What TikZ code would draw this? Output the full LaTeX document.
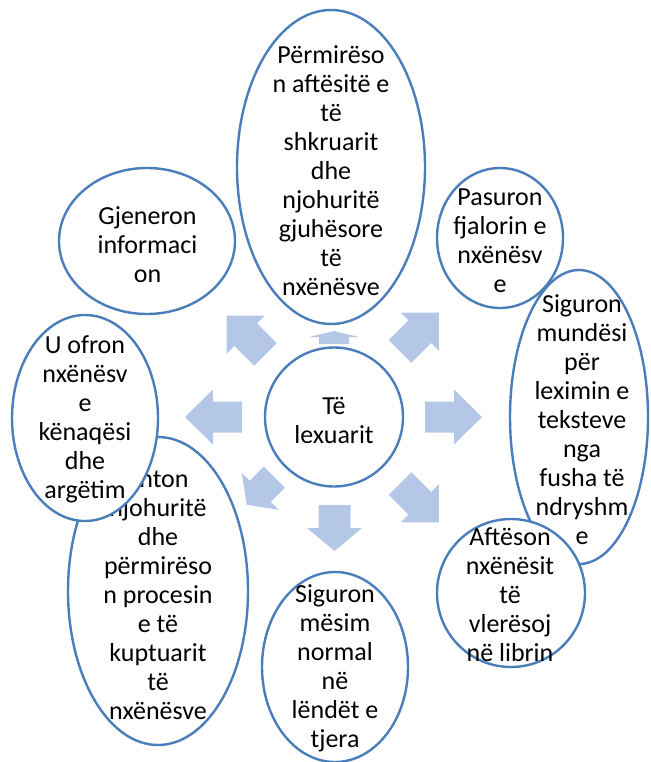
\documentclass[tikz,border=0pt]{standalone}
\usepackage{fontspec}
\setmainfont{Carlito}
\usetikzlibrary{shapes.geometric}
\definecolor{ellblue}{RGB}{74,126,187}
\definecolor{arrowfill}{RGB}{180,199,231}
\tikzset{
  bubble/.style={ellipse, draw=ellblue, line width=2.4pt, fill=white, inner sep=0pt},
  btext/.style={align=center, inner sep=0pt, font=\fontsize{26pt}{29pt}\selectfont, text=black},
  arrowshape/.style={fill=arrowfill}
}
% x, y, angle, length, head length, head width, shaft width
\newcommand\blockarrow[7]{\fill[arrowshape, shift={(#1,#2)}, rotate=#3]
  ({-#4/2},{-#7/2}) -- ({#4/2-#5},{-#7/2}) -- ({#4/2-#5},{-#6/2}) -- ({#4/2},0)
  -- ({#4/2-#5},{#6/2}) -- ({#4/2-#5},{#7/2}) -- ({-#4/2},{#7/2}) -- cycle;}
\begin{document}
\begin{tikzpicture}[x=1pt,y=-1pt]
\useasboundingbox (0,0) rectangle (650,762);
% block arrows
\blockarrow{213.5}{417}{180}{57}{28}{55}{31}
\blockarrow{453.5}{417}{0}{57}{28}{55}{31}
\blockarrow{246}{335}{135}{55}{27}{54}{32}
\blockarrow{419.5}{332}{45}{55}{27}{54}{32}
\blockarrow{419.5}{503}{315}{55}{27}{54}{32}
\blockarrow{334.5}{528}{270}{46}{23}{55}{32}
\blockarrow{260.5}{491}{225}{39}{19}{52}{30}
\blockarrow{334}{337.5}{90}{13}{6}{50}{30}
% centre
\node[bubble, minimum width=138pt, minimum height=139pt] (c) at (334,417) {};
\node[btext] (ct) at (334,420) {Të\\lexuarit};
% top
\node[bubble, minimum width=188pt, minimum height=314pt] (n) at (331,167) {};
\node[btext] (nt) at (331,171) {Përmirëso\\n aftësitë e\\të\\shkruarit\\dhe\\njohuritë\\gjuhësore\\të\\nxënësve};
% north-east
\node[bubble, minimum width=126pt, minimum height=140pt] (ne) at (500,238) {};
\node[btext] (net) at (500,241) {Pasuron\\fjalorin e\\nxënësv\\e};
% east
\node[bubble, minimum width=138pt, minimum height=294pt] (e) at (579,417) {};
\node[btext] (et) at (582,420) {Siguron\\mundësi\\për\\leximin e\\teksteve\\nga\\fusha të\\ndryshm\\e};
% south-east
\node[bubble, minimum width=148pt, minimum height=148pt] (se) at (511,593) {};
\node[btext] (set) at (510,595) {Aftëson\\nxënësit\\të\\vlerësoj\\në librin};
% south
\node[bubble, minimum width=146pt, minimum height=190pt] (s) at (335,667) {};
\node[btext] (st) at (335,668) {Siguron\\mësim\\normal\\në\\lëndët e\\tjera};
% south-west
\node[bubble, minimum width=180pt, minimum height=308pt] (sw) at (158,591) {};
\node[btext] (swt) at (158,594.5) {Shton\\njohuritë\\dhe\\përmirëso\\n procesin\\e të\\kuptuarit\\të\\nxënësve};
% west
\node[bubble, minimum width=146pt, minimum height=206pt] (w) at (85,418) {};
\node[btext] (wt) at (85,419) {U ofron\\nxënësv\\e\\kënaqësi\\dhe\\argëtim};
% north-west
\node[bubble, minimum width=176pt, minimum height=146pt] (nw) at (147,241) {};
\node[btext] (nwt) at (147.5,244.5) {Gjeneron\\informaci\\on};
\end{tikzpicture}
\end{document}
